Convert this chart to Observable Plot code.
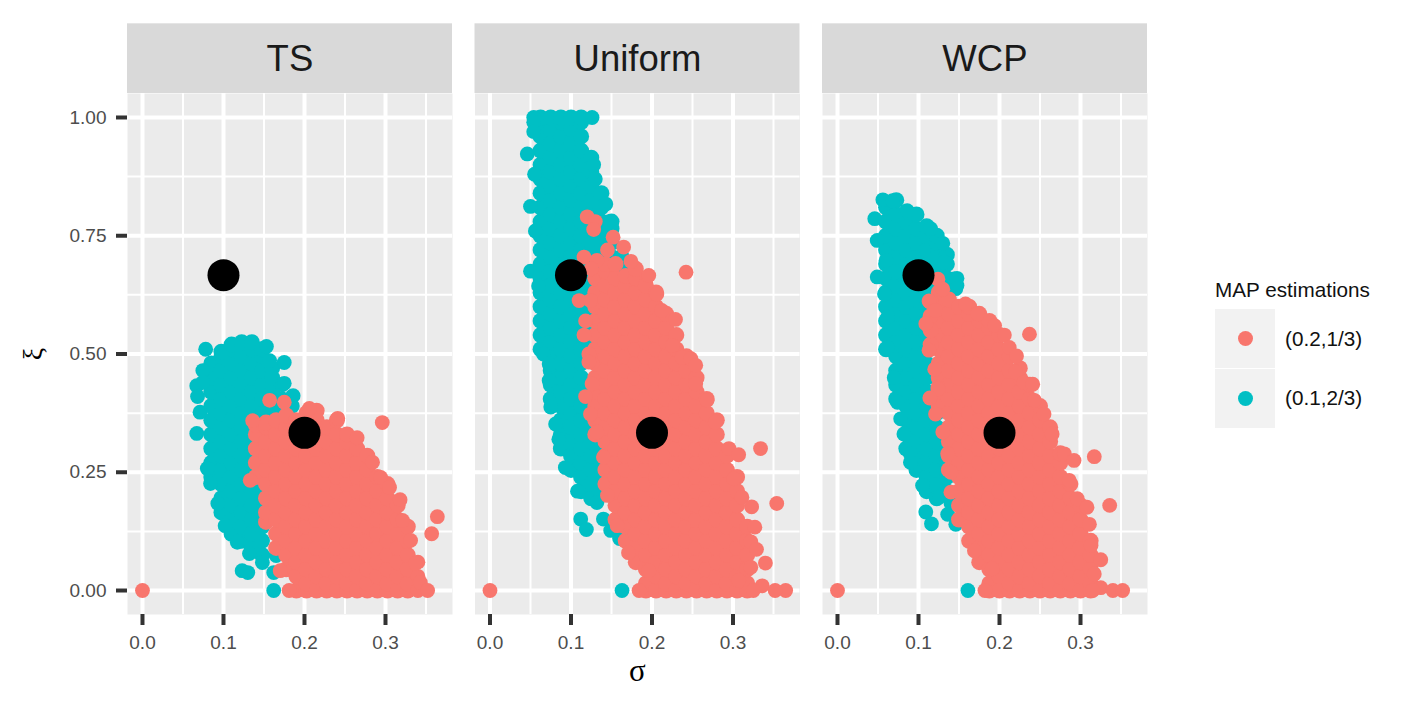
<!DOCTYPE html>
<html>
<head>
<meta charset="utf-8">
<script src="https://cdn.jsdelivr.net/npm/d3@7"></script>
<script src="https://cdn.jsdelivr.net/npm/@observablehq/plot@0.6"></script>
<style>
body { margin: 0; background: white; font-family: "Liberation Sans", sans-serif; }
#chart { position: relative; width: 1417px; height: 708px; overflow: hidden; }
#chart svg { display: block; }
#legend { position: absolute; left: 1215px; top: 277px; color: #111; }
#legend .title { font-size: 20.7px; line-height: 26px; height: 32px; }
#legend .row { display: flex; align-items: center; height: 59.5px; }
#legend .key { width: 60px; height: 59px; background: #f2f2f2; display: flex; align-items: center; justify-content: center; }
#legend .key i { display: block; width: 15px; height: 15px; border-radius: 50%; }
#legend .label { margin-left: 10px; font-size: 20.7px; }
</style>
</head>
<body>
<div id="chart"></div>
<script>
const methods = ["TS", "Uniform", "WCP"]
const xMajor = [0, 0.1, 0.2, 0.3]
const xMinor = [0.05, 0.15, 0.25, 0.35]
const yMajor = [0, 0.25, 0.5, 0.75, 1]
const yMinor = [0.125, 0.375, 0.625, 0.875]
const truthSigma = [0.1, 0.2]
const truthXi = [2/3, 1/3]
const legendLabels = ["(0.2,1/3)", "(0.1,2/3)"]
const red = "#F8766D"
const teal = "#00BFC4"

// [sigma, [xi, xi, ...]]
const tsTeal = [
[.085,[.24,.27,.30,.33,.36,.39,.42,.45,.48]],
[.0975,[.165,.195,.225,.255,.285,.315,.345,.375,.405,.435,.465,.495,.505]],
[.11,[.12,.15,.18,.21,.24,.27,.30,.33,.36,.39,.42,.45,.48,.51,.52]],
[.1225,[.105,.135,.165,.195,.225,.255,.285,.315,.345,.375,.405,.435,.465,.495,.525]],
[.135,[.09,.12,.15,.18,.21,.24,.27,.30,.33,.36,.39,.42,.45,.48,.51,.525]],
[.1475,[.075,.105,.135,.165,.195,.225,.255,.285,.315,.345,.375,.405,.435,.465,.495,.51]],
[.16,[.30,.33,.36,.39,.42,.45,.47]],
[.1725,[.375,.405,.435]],
[.185,[.39,.41]],
[.078,[.51]],[.067,[.433,.332]],[.068,[.41]],[.071,[.377]],[.0745,[.465,.44]],[.08,[.258]],[.084,[.226]],[.093,[.184]],
[.102,[.137]],[.117,[.102]],[.132,[.078]],[.123,[.042]],[.13,[.038]],[.162,[0,.038]],[.165,[.074]],
[.153,[.516]],[.175,[.482,.438]],[.157,[.486]],[.186,[.412]],[.148,[.059]]
]
const tsRed = [
[.14,[.24,.27,.30,.33,.35]],
[.1525,[.145,.165,.195,.225,.255,.285,.315,.345,.355]],
[.165,[.09,.12,.15,.18,.21,.24,.27,.30,.33,.36]],
[.1775,[.045,.075,.105,.135,.165,.195,.225,.255,.285,.315,.345,.37]],
[.19,[0,.03,.06,.09,.12,.15,.18,.21,.24,.27,.30,.33,.36]],
[.2025,[0,.015,.045,.075,.105,.135,.165,.195,.225,.255,.285,.315,.345,.375]],
[.215,[0,.03,.06,.09,.12,.15,.18,.21,.24,.27,.30,.33,.36,.38]],
[.2275,[0,.015,.045,.075,.105,.135,.165,.195,.225,.255,.285,.315,.345]],
[.24,[0,.03,.06,.09,.12,.15,.18,.21,.24,.27,.30,.33,.36]],
[.2525,[0,.015,.045,.075,.105,.135,.165,.195,.225,.255,.285,.315,.33]],
[.265,[0,.03,.06,.09,.12,.15,.18,.21,.24,.27,.30]],
[.2775,[0,.015,.045,.075,.105,.135,.165,.195,.225,.255,.285]],
[.29,[0,.03,.06,.09,.12,.15,.18,.21,.24]],
[.3025,[0,.015,.045,.075,.105,.135,.165,.195,.225]],
[.315,[0,.03,.06,.09,.12,.15,.18]],
[.3275,[0,.015,.045,.075,.105,.135]],
[.34,[0,.03,.06]],
[0,[0]],[.157,[.402]],[.175,[.398]],[.206,[.385]],[.241,[.364]],[.296,[.355]],[.265,[.323]],[.284,[.271]],[.294,[.239]],
[.305,[.218]],[.318,[.192]],[.321,[.148]],[.331,[.106]],[.337,[.057]],[.343,[.017]],[.352,[0]],[.364,[.156]],[.357,[.12]],
[.133,[.233]],[.136,[.359]],[.181,[0]],[.17,[.042]]
]
const uniTeal = [
[.0625,[.51,.54,.57,.60,.63,.66,.69,.72,.75,.78,.81,.84,.87,.90,.93,.96,.99,1]],
[.075,[.405,.435,.465,.495,.525,.555,.585,.615,.645,.675,.705,.735,.765,.795,.825,.855,.885,.915,.945,.975,1]],
[.0875,[.30,.33,.36,.39,.42,.45,.48,.51,.54,.57,.60,.63,.66,.69,.72,.75,.78,.81,.84,.87,.90,.93,.96,.99,1]],
[.10,[.255,.285,.315,.345,.375,.405,.435,.465,.495,.525,.555,.585,.615,.645,.675,.705,.735,.765,.795,.825,.855,.885,.915,.945,.975,1]],
[.1125,[.21,.24,.27,.30,.33,.36,.39,.42,.45,.48,.51,.54,.57,.60,.63,.66,.69,.72,.75,.78,.81,.84,.87,.90,.93,.96,.99,1]],
[.125,[.195,.225,.255,.285,.315,.345,.375,.405,.435,.525,.555,.585,.615,.645,.675,.705,.735,.765,.795,.825,.855,.885,.915]],
[.1375,[.21,.24,.27,.30,.63,.66,.69,.72,.75,.78,.81,.84]],
[.15,[.645,.675,.705,.735,.765,.78]],
[.1625,[.63,.66,.69,.705]],
[.126,[1]],[.054,[1,.99,.97]],[.046,[.923]],[.055,[.88]],[.05,[.812,.675]],[.06,[.644]],[.056,[.76]],[.066,[.50]],[.073,[.479,.444]],
[.075,[.388]],[.081,[.352]],[.085,[.32]],[.093,[.26]],[.108,[.21]],[.132,[.186]],[.112,[.151]],[.119,[.129]],[.14,[.151]],
[.149,[.127]],[.172,[.098]],[.163,[0]],[.143,[.817]],[.147,[.78]],[.128,[.90]],[.13,[.87]],[.16,[.11]]
]
const uniRed = [
[.13,[.33,.36,.39,.42,.45,.48,.51,.54,.57,.60,.63,.66]],
[.1425,[.225,.255,.285,.315,.345,.375,.405,.435,.465,.495,.525,.555,.585,.615,.645,.675,.69]],
[.155,[.15,.18,.21,.24,.27,.30,.33,.36,.39,.42,.45,.48,.51,.54,.57,.60,.63,.66,.69]],
[.1675,[.105,.135,.165,.195,.225,.255,.285,.315,.345,.375,.405,.435,.465,.495,.525,.555,.585,.615,.645,.665]],
[.18,[.06,.09,.12,.15,.18,.21,.24,.27,.30,.33,.36,.39,.42,.45,.48,.51,.54,.57,.60,.63,.66,.68]],
[.1925,[0,.015,.045,.075,.105,.135,.165,.195,.225,.255,.285,.315,.345,.375,.405,.435,.465,.495,.525,.555,.585,.615,.645]],
[.205,[0,.03,.06,.09,.12,.15,.18,.21,.24,.27,.30,.33,.36,.39,.42,.45,.48,.51,.54,.57,.60,.63]],
[.2175,[0,.015,.045,.075,.105,.135,.165,.195,.225,.255,.285,.315,.345,.375,.405,.435,.465,.495,.525,.555,.585]],
[.23,[0,.03,.06,.09,.12,.15,.18,.21,.24,.27,.30,.33,.36,.39,.42,.45,.48,.51,.54]],
[.2425,[0,.015,.045,.075,.105,.135,.165,.195,.225,.255,.285,.315,.345,.375,.405,.435,.465,.495]],
[.255,[0,.03,.06,.09,.12,.15,.18,.21,.24,.27,.30,.33,.36,.39,.42,.45]],
[.2675,[0,.015,.045,.075,.105,.135,.165,.195,.225,.255,.285,.315,.345,.375,.405]],
[.28,[0,.03,.06,.09,.12,.15,.18,.21,.24,.27,.30,.33,.36]],
[.2925,[0,.015,.045,.075,.105,.135,.165,.195,.225,.255,.285]],
[.305,[0,.03,.06,.09,.12,.15,.18,.21,.24]],
[.3175,[0,.015,.045,.075,.105,.135]],
[.12,[.79]],[.13,[.78]],[.128,[.763]],[.152,[.747]],[.165,[.726]],[.145,[.72]],[.116,[.705]],[.174,[.696]],[.196,[.666]],[.242,[.673]],
[.132,[.698]],[.125,[.68]],[.206,[.627]],[.212,[.592]],[.229,[.573]],[.11,[.613]],[.124,[.613]],[.118,[.57,.41]],[.116,[.54]],[.122,[.50,.483]],
[.237,[.493]],[.248,[.49]],[.225,[.518]],[.126,[.437]],[.124,[.373]],[.132,[.335]],[.14,[.282]],[.145,[.201]],[.157,[.137]],[.171,[.08]],
[.196,[.042]],[.184,[0]],[.254,[.476,.437]],[.268,[.402]],[.278,[.356]],[.295,[.30]],[.307,[.287,.021]],[.334,[.30]],[.301,[.236]],[.311,[.197]],
[.323,[.177]],[.354,[.184]],[.327,[.134]],[.322,[.103,.049]],[.329,[.087]],[.34,[.058]],[.336,[.01]],[.365,[0]],[.352,[0]],[.325,[0]],[0,[0]]
]
const wcpTeal = [
[.06,[.51,.54,.57,.60,.63,.66,.69,.72,.75,.78,.81,.82]],
[.0725,[.405,.435,.465,.495,.525,.555,.585,.615,.645,.675,.705,.735,.765,.795,.825]],
[.085,[.30,.33,.36,.39,.42,.45,.48,.51,.54,.57,.60,.63,.66,.69,.72,.75,.78,.80]],
[.0975,[.255,.285,.315,.345,.375,.405,.435,.465,.495,.525,.555,.585,.615,.645,.675,.705,.735,.765,.795]],
[.11,[.21,.24,.27,.30,.33,.36,.39,.42,.45,.48,.51,.54,.57,.60,.63,.66,.69,.72,.75,.77]],
[.1225,[.195,.225,.255,.285,.315,.345,.375,.405,.615,.645,.675,.705,.735,.75]],
[.135,[.21,.24,.27,.30,.63,.66,.69,.71]],
[.1475,[.645,.66]],
[.056,[.826]],[.068,[.824]],[.086,[.803]],[.046,[.786]],[.115,[.765]],[.049,[.74,.663]],[.13,[.734]],[.06,[.698]],[.132,[.694]],
[.144,[.659]],[.146,[.638]],[.058,[.627]],[.062,[.578,.514]],[.07,[.45]],[.074,[.398]],[.078,[.363]],[.082,[.331]],[.09,[.289,.271]],
[.105,[.222]],[.126,[.198]],[.109,[.166]],[.116,[.141]],[.136,[.161]],[.146,[.14]],[.167,[.105]],[.161,[0]],[.14,[.185]]
]
const wcpRed = [
[.125,[.39,.42,.45,.48,.51,.54,.57,.60,.63]],
[.1375,[.255,.285,.315,.345,.375,.405,.435,.465,.495,.525,.555,.585,.615]],
[.15,[.15,.18,.21,.24,.27,.30,.33,.36,.39,.42,.45,.48,.51,.54,.57,.60]],
[.1625,[.105,.135,.165,.195,.225,.255,.285,.315,.345,.375,.405,.435,.465,.495,.525,.555,.585,.60]],
[.175,[.06,.09,.12,.15,.18,.21,.24,.27,.30,.33,.36,.39,.42,.45,.48,.51,.54,.57,.585]],
[.1875,[0,.015,.045,.075,.105,.135,.165,.195,.225,.255,.285,.315,.345,.375,.405,.435,.465,.495,.525,.555,.57]],
[.20,[0,.03,.06,.09,.12,.15,.18,.21,.24,.27,.30,.33,.36,.39,.42,.45,.48,.51,.54]],
[.2125,[0,.015,.045,.075,.105,.135,.165,.195,.225,.255,.285,.315,.345,.375,.405,.435,.465,.495]],
[.225,[0,.03,.06,.09,.12,.15,.18,.21,.24,.27,.30,.33,.36,.39,.42,.45,.47]],
[.2375,[0,.015,.045,.075,.105,.135,.165,.195,.225,.255,.285,.315,.345,.375,.405,.435]],
[.25,[0,.03,.06,.09,.12,.15,.18,.21,.24,.27,.30,.33,.36,.39]],
[.2625,[0,.015,.045,.075,.105,.135,.165,.195,.225,.255,.285,.315,.345]],
[.275,[0,.03,.06,.09,.12,.15,.18,.21,.24,.27,.29]],
[.2875,[0,.015,.045,.075,.105,.135,.165,.195,.225]],
[.30,[0,.03,.06,.09,.12,.15,.18]],
[.3125,[0,.015,.045,.075,.105]],
[.115,[.52,.55,.58,.61]],
[.124,[.658,.43,.426]],[.13,[.637,.335]],[.113,[.612,.508]],[.158,[.606]],[.121,[.592,.373]],[.109,[.564]],[.173,[.585]],[.194,[.56]],
[.206,[.54]],[.237,[.542]],[.212,[.514]],[.221,[.496]],[.12,[.468]],[.22,[.462]],[.23,[.44]],[.241,[.436]],[.114,[.407]],[.136,[.289]],
[.14,[.25,.208]],[.169,[.084]],[.191,[.046]],[.182,[0]],[.243,[.402]],[.255,[.373]],[.265,[.331]],[.28,[.289]],[.292,[.275]],[.317,[.283,.035]],
[.286,[.233]],[.296,[.194]],[.308,[.176]],[.336,[.18]],[.311,[.14]],[.313,[.095]],[.325,[.065,.006]],[.34,[0]],[.352,[0]],[.315,[0]],[0,[0]]
]

const table = (columns, method) =>
  columns.flatMap(([sigma, xis]) => xis.map((xi) => ({ method, sigma, xi, core: xis.length > 3 })))

const tealPoints = [...table(tsTeal, "TS"), ...table(uniTeal, "Uniform"), ...table(wcpTeal, "WCP")]
const redPoints = [...table(tsRed, "TS"), ...table(uniRed, "Uniform"), ...table(wcpRed, "WCP")]

const xDomain = [-0.0185, 0.3827]
const yDomain = [-0.0507, 1.0507]

// the long columns fill the cloud, so they get a touch more radius to close the holes between them
const cloud = (points, fill) => [
  Plot.dot(points.filter((d) => d.core), { x: "sigma", y: "xi", fx: "method", r: 8, fill }),
  Plot.dot(points.filter((d) => !d.core), { x: "sigma", y: "xi", fx: "method", r: 7.4, fill })
]

let chart = Plot.plot({
  width: 1417,
  height: 708,
  marginLeft: 127,
  marginRight: 270,
  marginTop: 93,
  marginBottom: 94,
  style: { fontFamily: "Liberation Sans", background: "white", overflow: "visible" },
  fx: { domain: methods, paddingInner: 0.0648, paddingOuter: 0, axis: null, round: false },
  x: { domain: xDomain, label: null },
  y: { domain: yDomain, label: null },
  marks: [
    Plot.frame({ fill: "#ebebeb", stroke: null }),
    Plot.ruleX(xMinor, { stroke: "white", strokeWidth: 2 }),
    Plot.ruleY(yMinor, { stroke: "white", strokeWidth: 2 }),
    Plot.ruleX(xMajor, { stroke: "white", strokeWidth: 4 }),
    Plot.ruleY(yMajor, { stroke: "white", strokeWidth: 4 }),
    cloud(tealPoints, teal),
    cloud(redPoints, red),
    Plot.dot(truthSigma, { x: (d) => d, y: (d, i) => truthXi[i], r: 16, fill: "black" }),
    // strip above each panel, in data units past the top of the y domain
    Plot.rect([0], { x1: xDomain[0], x2: xDomain[1], y1: yDomain[1], y2: 1.198, fill: "#d9d9d9" }),
    Plot.text(methods, { fx: (d) => d, text: (d) => d, x: 0.182, y: 1.1225, fontSize: 36.5, fill: "#1a1a1a" }),
    Plot.axisX({ ticks: xMajor, tickFormat: ".1f", anchor: "bottom", label: null, tickSize: 11, tickPadding: 10, stroke: "#333", strokeWidth: 4, fill: "#4d4d4d", fontSize: 19 }),
    Plot.axisY({ ticks: yMajor, tickFormat: ".2f", anchor: "left", label: null, tickSize: 11, tickPadding: 10, stroke: "#333", strokeWidth: 4, fill: "#4d4d4d", fontSize: 19 }),
    Plot.text(["σ"], { fx: () => "Uniform", x: 0.182, y: -0.171, text: (d) => d, fontSize: 31, fontFamily: "Liberation Serif", fill: "black" }),
    Plot.text(["ξ"], { fx: () => "TS", x: -0.135, y: 0.5, text: (d) => d, rotate: -90, fontSize: 28, fontFamily: "Liberation Serif", fill: "black" })
  ]
})

d3.select("#chart").append(() => chart)

let legend = d3.select("#chart").append("div").attr("id", "legend")
legend.append("div").attr("class", "title").text("MAP estimations")
let rows = legend.selectAll(".row").data(legendLabels).join("div").attr("class", "row")
rows.append("div").attr("class", "key").append("i").style("background", (d, i) => [red, teal][i])
rows.append("div").attr("class", "label").text((d) => d)
</script>
</body>
</html>
